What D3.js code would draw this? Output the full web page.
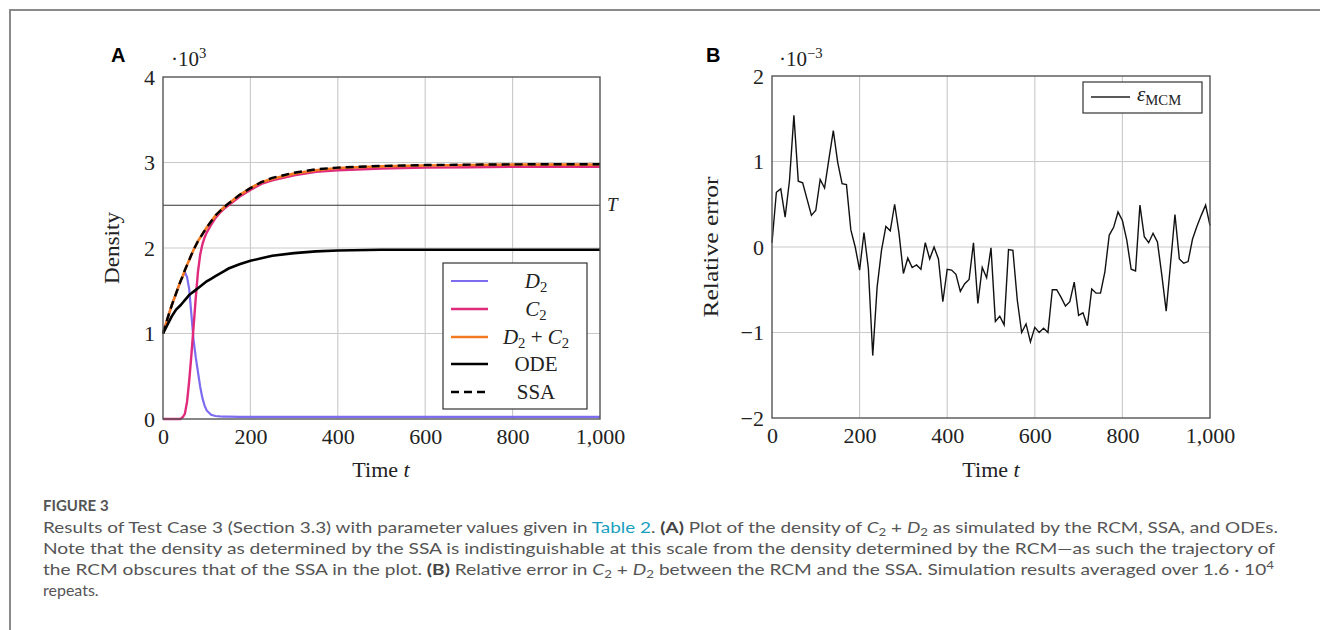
<!DOCTYPE html>
<html>
<head>
<meta charset="utf-8">
<script src="https://cdn.jsdelivr.net/npm/d3@7"></script>
<style>
  body { margin: 0; background: #fff; }
  svg { display: block; }
</style>
</head>
<body>
<svg id="fig" width="1320" height="630"></svg>
<script>
// Panel A : densité en fonction du temps
const timeA = [0, 10, 20, 30, 40, 45, 50, 55, 60, 65, 70, 75, 80, 85, 90, 95, 100, 110, 120, 130, 140, 150, 175, 200, 225, 250, 300, 350, 400, 500, 600, 700, 800, 900, 1000];
const d2 = [1.00, 1.17, 1.33, 1.47, 1.61, 1.66, 1.72, 1.66, 1.52, 1.22, 0.92, 0.72, 0.55, 0.38, 0.25, 0.16, 0.10, 0.05, 0.035, 0.03, 0.028, 0.027, 0.026, 0.025, 0.025, 0.025, 0.025, 0.025, 0.025, 0.025, 0.025, 0.025, 0.025, 0.025, 0.025];
const c2 = [0, 0, 0, 0, 0, 0.02, 0.06, 0.2, 0.45, 0.75, 1.08, 1.42, 1.72, 1.92, 2.04, 2.12, 2.18, 2.27, 2.35, 2.41, 2.46, 2.50, 2.60, 2.68, 2.75, 2.79, 2.85, 2.89, 2.91, 2.93, 2.94, 2.945, 2.95, 2.95, 2.95];
const sumD2C2 = [1.00, 1.17, 1.33, 1.47, 1.61, 1.67, 1.74, 1.80, 1.86, 1.92, 1.98, 2.03, 2.08, 2.12, 2.16, 2.20, 2.24, 2.31, 2.38, 2.43, 2.48, 2.52, 2.62, 2.70, 2.77, 2.81, 2.87, 2.91, 2.935, 2.955, 2.965, 2.97, 2.975, 2.975, 2.975];
const ode = [1.00, 1.10, 1.20, 1.28, 1.33, 1.36, 1.39, 1.42, 1.45, 1.47, 1.49, 1.51, 1.53, 1.55, 1.57, 1.59, 1.61, 1.64, 1.67, 1.70, 1.73, 1.76, 1.81, 1.85, 1.88, 1.91, 1.94, 1.96, 1.97, 1.98, 1.98, 1.98, 1.98, 1.98, 1.98];
const ssa = [1.00, 1.17, 1.33, 1.47, 1.61, 1.67, 1.74, 1.80, 1.86, 1.92, 1.98, 2.03, 2.08, 2.12, 2.16, 2.20, 2.24, 2.31, 2.38, 2.43, 2.48, 2.52, 2.62, 2.70, 2.77, 2.82, 2.88, 2.92, 2.94, 2.96, 2.97, 2.975, 2.978, 2.98, 2.98];
const thresholdT = 2.5;

// Panel B : erreur relative (x 10^-3)
const timeB = [0, 10, 20, 30, 40, 50, 60, 70, 80, 90, 100, 110, 120, 130, 140, 150, 160, 170, 180, 190, 200, 210, 220, 230, 240, 250, 260, 270, 280, 290, 300, 310, 320, 330, 340, 350, 360, 370, 380, 390, 400, 410, 420, 430, 440, 450, 460, 470, 480, 490, 500, 510, 520, 530, 540, 550, 560, 570, 580, 590, 600, 610, 620, 630, 640, 650, 660, 670, 680, 690, 700, 710, 720, 730, 740, 750, 760, 770, 780, 790, 800, 810, 820, 830, 840, 850, 860, 870, 880, 890, 900, 910, 920, 930, 940, 950, 960, 970, 980, 990, 1000];
const errMCM = [0.05, 0.64, 0.68, 0.35, 0.78, 1.54, 0.77, 0.75, 0.56, 0.37, 0.43, 0.79, 0.69, 1.03, 1.36, 0.99, 0.74, 0.73, 0.20, 0.0, -0.27, 0.17, -0.25, -1.27, -0.47, -0.04, 0.24, 0.19, 0.50, 0.16, -0.31, -0.13, -0.24, -0.21, -0.26, 0.05, -0.14, 0.0, -0.14, -0.64, -0.26, -0.27, -0.32, -0.52, -0.43, -0.38, 0.05, -0.66, -0.24, -0.36, -0.01, -0.87, -0.81, -0.91, -0.03, -0.04, -0.62, -1.0, -0.9, -1.11, -0.94, -1.0, -0.95, -1.0, -0.5, -0.5, -0.59, -0.69, -0.64, -0.41, -0.8, -0.77, -0.92, -0.49, -0.54, -0.54, -0.29, 0.14, 0.23, 0.41, 0.31, 0.08, -0.26, -0.28, 0.49, 0.12, 0.05, 0.16, 0.06, -0.33, -0.75, -0.19, 0.38, -0.14, -0.19, -0.17, 0.09, 0.24, 0.37, 0.49, 0.25];

const xTicks = [0, 200, 400, 600, 800, 1000];
const yTicksA = [0, 1, 2, 3, 4];
const yTicksB = [-2, -1, 0, 1, 2];

const serif = "'Liberation Serif', 'DejaVu Serif', serif";
const svg = d3.select("#fig");

svg.append("rect").attr("width", 1320).attr("height", 630).attr("fill", "#fff");

// cadre de la figure
svg.append("path")
  .attr("d", "M10,630 L10,10 L1320,10")
  .attr("fill", "none")
  .attr("stroke", "#8a8a8a")
  .attr("stroke-width", 2);

function drawFrame(x, y, yTicks) {
  const g = svg.append("g");
  const [x0, x1] = x.range();
  const [y0, y1] = y.range();

  // grille
  g.selectAll(".vgrid")
    .data(xTicks.slice(1, -1))
    .enter()
    .append("line")
    .attr("x1", (d) => x(d)).attr("x2", (d) => x(d))
    .attr("y1", y1).attr("y2", y0)
    .attr("stroke", "#c9c9c9").attr("stroke-width", 1.1);
  g.selectAll(".hgrid")
    .data(yTicks.slice(1, -1))
    .enter()
    .append("line")
    .attr("x1", x0).attr("x2", x1)
    .attr("y1", (d) => y(d)).attr("y2", (d) => y(d))
    .attr("stroke", "#c9c9c9").attr("stroke-width", 1.1);

  // axes (labels seulement)
  const ax = g.append("g")
    .attr("transform", `translate(0,${y0})`)
    .call(d3.axisBottom(x).tickValues(xTicks).tickFormat(d3.format(",")).tickSize(0).tickPadding(9));
  const ay = g.append("g")
    .attr("transform", `translate(${x0},0)`)
    .call(d3.axisLeft(y).tickValues(yTicks).tickFormat(d3.format("d")).tickSize(0).tickPadding(8));
  [ax, ay].forEach((a) => {
    a.select(".domain").remove();
    a.attr("font-family", serif).attr("font-size", 22);
    a.selectAll("text").attr("fill", "#222");
  });
  return g;
}

function drawBox(x, y) {
  const [x0, x1] = x.range();
  const [y0, y1] = y.range();
  svg.append("rect")
    .attr("x", x0).attr("y", y1)
    .attr("width", x1 - x0).attr("height", y0 - y1)
    .attr("fill", "none")
    .attr("stroke", "#555")
    .attr("stroke-width", 1.4);
}

// ---------- Panel A ----------
const xA = d3.scaleLinear().domain([0, 1000]).range([163, 600]);
const yA = d3.scaleLinear().domain([0, 4]).range([419, 77]);
drawFrame(xA, yA, yTicksA);

// ligne du seuil T
svg.append("line")
  .attr("x1", xA(0)).attr("x2", xA(1000))
  .attr("y1", yA(thresholdT)).attr("y2", yA(thresholdT))
  .attr("stroke", "#333").attr("stroke-width", 1.1);
svg.append("text")
  .attr("x", 607).attr("y", yA(thresholdT) + 6)
  .attr("font-family", serif).attr("font-style", "italic").attr("font-size", 19)
  .attr("fill", "#222")
  .text("T");

const lineA = (vals) => d3.line()
  .x((d, i) => xA(timeA[i]))
  .y((d) => yA(d))(vals);

const seriesA = [
  { name: "D2", values: d2, color: "#7d6cf0", width: 2.2, dash: null },
  { name: "C2", values: c2, color: "#e02a7c", width: 2.4, dash: null },
  { name: "D2+C2", values: sumD2C2, color: "#f47a22", width: 2.6, dash: null },
  { name: "ODE", values: ode, color: "#000", width: 2.6, dash: null },
  { name: "SSA", values: ssa, color: "#000", width: 2.4, dash: "8,5" },
];

seriesA.forEach((s) => {
  svg.append("path")
    .attr("d", lineA(s.values))
    .attr("fill", "none")
    .attr("stroke", s.color)
    .attr("stroke-width", s.width)
    .attr("stroke-dasharray", s.dash);
});

drawBox(xA, yA);

// légende A
svg.append("rect")
  .attr("x", 443).attr("y", 263).attr("width", 144).attr("height", 146)
  .attr("fill", "#fff").attr("stroke", "#333").attr("stroke-width", 1.2);

const legendY = [281, 309, 337, 364, 392];
seriesA.forEach((s, i) => {
  svg.append("line")
    .attr("x1", 451).attr("x2", 488)
    .attr("y1", legendY[i]).attr("y2", legendY[i])
    .attr("stroke", s.color)
    .attr("stroke-width", s.width)
    .attr("stroke-dasharray", s.dash);
});

function mathText(parent, parts) {
  // parts: [texte, style] avec style = "i" (italique), "sub", "n" (normal), "sup"
  parts.forEach(([t, st]) => {
    const ts = parent.append("tspan").text(t);
    if (st === "i") ts.attr("font-style", "italic");
    if (st === "sub") ts.attr("font-size", "0.7em").attr("dy", "0.3em");
    if (st === "sup") ts.attr("font-size", "0.7em").attr("dy", "-0.55em");
    if (st === "back") ts.attr("dy", "-0.21em");
  });
}

const legendLabels = [
  [["D", "i"], ["2", "sub"]],
  [["C", "i"], ["2", "sub"]],
  [["D", "i"], ["2", "sub"], [" + ", "back"], ["C", "i"], ["2", "sub"]],
  [["ODE", "n"]],
  [["SSA", "n"]],
];
legendLabels.forEach((parts, i) => {
  const t = svg.append("text")
    .attr("x", 536).attr("y", legendY[i] + 7)
    .attr("text-anchor", "middle")
    .attr("font-family", serif).attr("font-size", 21).attr("fill", "#222");
  mathText(t, parts);
});

// titres A
svg.append("text")
  .attr("transform", "translate(119,248) rotate(-90)")
  .attr("text-anchor", "middle")
  .attr("font-family", serif).attr("font-size", 22).attr("fill", "#222")
  .attr("textLength", 72).attr("lengthAdjust", "spacingAndGlyphs")
  .text("Density");
const tA = svg.append("text")
  .attr("x", 381).attr("y", 477)
  .attr("text-anchor", "middle")
  .attr("font-family", serif).attr("font-size", 22).attr("fill", "#222");
mathText(tA, [["Time ", "n"], ["t", "i"]]);

const mulA = svg.append("text")
  .attr("x", 171).attr("y", 66)
  .attr("font-family", serif).attr("font-size", 21).attr("fill", "#222");
mathText(mulA, [["·10", "n"], ["3", "sup"]]);

svg.append("text")
  .attr("x", 111).attr("y", 62)
  .attr("font-family", "'Liberation Sans', Arial, sans-serif")
  .attr("font-weight", "bold").attr("font-size", 20)
  .text("A");

// ---------- Panel B ----------
const xB = d3.scaleLinear().domain([0, 1000]).range([772, 1210]);
const yB = d3.scaleLinear().domain([-2, 2]).range([418, 76]);
drawFrame(xB, yB, yTicksB);

svg.append("path")
  .datum(errMCM)
  .attr("d", d3.line().x((d, i) => xB(timeB[i])).y((d) => yB(d)))
  .attr("fill", "none")
  .attr("stroke", "#111")
  .attr("stroke-width", 1.4)
  .attr("stroke-linejoin", "miter");

drawBox(xB, yB);

// légende B
svg.append("rect")
  .attr("x", 1083).attr("y", 82).attr("width", 119).attr("height", 31)
  .attr("fill", "#fff").attr("stroke", "#333").attr("stroke-width", 1.2);
svg.append("line")
  .attr("x1", 1091).attr("x2", 1130).attr("y1", 97).attr("y2", 97)
  .attr("stroke", "#222").attr("stroke-width", 1.3);
const legB = svg.append("text")
  .attr("x", 1137).attr("y", 101)
  .attr("font-family", serif).attr("font-size", 21).attr("fill", "#222");
mathText(legB, [["ε", "i"], ["MCM", "sub"]]);

svg.append("text")
  .attr("transform", "translate(718,247) rotate(-90)")
  .attr("text-anchor", "middle")
  .attr("font-family", serif).attr("font-size", 22).attr("fill", "#222")
  .attr("textLength", 141).attr("lengthAdjust", "spacingAndGlyphs")
  .text("Relative error");
const tB = svg.append("text")
  .attr("x", 991).attr("y", 477)
  .attr("text-anchor", "middle")
  .attr("font-family", serif).attr("font-size", 22).attr("fill", "#222");
mathText(tB, [["Time ", "n"], ["t", "i"]]);

const mulB = svg.append("text")
  .attr("x", 779).attr("y", 66)
  .attr("font-family", serif).attr("font-size", 21).attr("fill", "#222");
mathText(mulB, [["·10", "n"], ["−3", "sup"]]);

svg.append("text")
  .attr("x", 706).attr("y", 62)
  .attr("font-family", "'Liberation Sans', Arial, sans-serif")
  .attr("font-weight", "bold").attr("font-size", 20)
  .text("B");

// ---------- Légende de la figure ----------
const capFont = "Lato, 'Open Sans', sans-serif";
svg.append("text")
  .attr("x", 43).attr("y", 511)
  .attr("font-family", capFont).attr("font-weight", "bold").attr("font-size", 15)
  .attr("fill", "#555")
  .text("FIGURE 3");

const capLines = [
  { y: 533, len: 1235, parts: [
    ["Results of Test Case 3 (Section 3.3) with parameter values given in ", "n"],
    ["Table 2", "link"], [". ", "n"], ["(A)", "b"],
    [" Plot of the density of ", "n"], ["C", "i"], ["2", "sub"], [" + ", "back"], ["D", "i"], ["2", "sub"],
    [" as simulated by the RCM, SSA, and ODEs.", "back"]] },
  { y: 554, len: 1232, parts: [
    ["Note that the density as determined by the SSA is indistinguishable at this scale from the density determined by the RCM—as such the trajectory of", "n"]] },
  { y: 575, len: 1231, parts: [
    ["the RCM obscures that of the SSA in the plot. ", "n"], ["(B)", "b"], [" Relative error in ", "n"],
    ["C", "i"], ["2", "sub"], [" + ", "back"], ["D", "i"], ["2", "sub"],
    [" between the RCM and the SSA. Simulation results averaged over 1.6 · 10", "back"], ["4", "sup"]] },
  { y: 596, len: null, parts: [["repeats.", "n"]] },
];

capLines.forEach((l) => {
  const t = svg.append("text")
    .attr("x", 43).attr("y", l.y)
    .attr("font-family", capFont).attr("font-size", 16).attr("fill", "#555");
  if (l.len) t.attr("textLength", l.len).attr("lengthAdjust", "spacingAndGlyphs");
  l.parts.forEach(([txt, st]) => {
    const ts = t.append("tspan").text(txt);
    if (st === "link") ts.attr("fill", "#1a9fbf");
    if (st === "b") ts.attr("font-weight", "bold").attr("fill", "#444");
    if (st === "i") ts.attr("font-style", "italic");
    if (st === "sub") ts.attr("font-size", "0.7em").attr("dy", "0.3em");
    if (st === "back") ts.attr("dy", "-0.21em");
    if (st === "sup") ts.attr("font-size", "0.7em").attr("dy", "-0.5em");
  });
});
</script>
</body>
</html>
